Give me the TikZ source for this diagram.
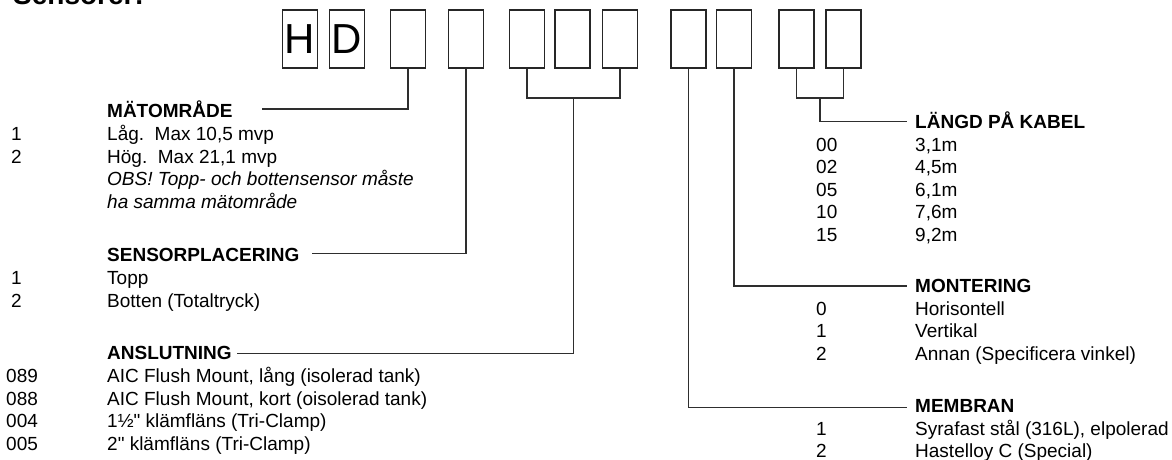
\documentclass[tikz,border=0pt]{standalone}
\usepackage{fontspec}
\setmainfont{Liberation Sans}[Ligatures=TeXOff]
\newcommand{\codefont}{\fontsize{19}{22.5}\selectfont}
\begin{document}
\begin{tikzpicture}[x=1pt,y=-1pt,
    box/.style={draw=black!85,line width=1.5pt,minimum width=35pt,minimum height=58pt,inner sep=0pt,font=\fontsize{42}{42}\selectfont},
    head/.style={anchor=base west,inner sep=0pt,font=\codefont\bfseries},
    item/.style={anchor=base west,inner sep=0pt,font=\codefont},
    conn/.style={draw=black!82,line width=1.5pt}]
    % Fix the page size
    \useasboundingbox (0,0) rectangle (1172,459);

    % Title (cut off at the top)
    \node[anchor=base west,inner sep=0pt,font=\fontsize{28}{28}\selectfont\bfseries] (title) at (13,4) {Sensorer:};

    % Code boxes
    \node[box] (b1) at (300,39) {H};
    \node[box] (b2) at (347,39) {D};
    \node[box] (b3) at (408,39) {};
    \node[box] (b4) at (466,39) {};
    \node[box] (b5) at (527,39) {};
    \node[box] (b6) at (572.5,39) {};
    \node[box] (b7) at (620,39) {};
    \node[box] (b8) at (688.5,39) {};
    \node[box] (b9) at (734,39) {};
    \node[box] (b10) at (796.5,39) {};
    \node[box] (b11) at (843.5,39) {};

    % Free ends of the connectors
    \coordinate (matend) at (262,109);
    \coordinate (sensend) at (311.5,253.5);
    \coordinate (anend) at (237,353.5);
    \coordinate (anbr) at (573.5,97);
    \coordinate (lkend) at (907,121.5);
    \coordinate (lkbr) at (820,97);
    \coordinate (montend) at (907,286);
    \coordinate (membend) at (907,407.5);

    % Connectors
    \draw[conn] (b3.south) |- (matend);
    \draw[conn] (b4.south) |- (sensend);
    \draw[conn] (b5.south) -- ++(0,29) -| (b7.south);
    \draw[conn] (anbr) |- (anend);
    \draw[conn] (b8.south) |- (membend);
    \draw[conn] (b9.south) |- (montend);
    \draw[conn] (b10.south) -- ++(0,29) -| (b11.south);
    \draw[conn] (lkbr) |- (lkend);

    % MÄTOMRÅDE
    \node[head] (mat) at (107,117.5) {MÄTOMRÅDE};
    \node[item] (mat1n) at (11,140.5) {1};
    \node[item] (mat1t) at (107,140.5) {Låg.\ \ Max 10,5 mvp};
    \node[item] (mat2n) at (11,163) {2};
    \node[item] (mat2t) at (107,163) {Hög.\ \ Max 21,1 mvp};
    \node[item,font=\codefont\itshape] (obs1) at (107,185.5) {OBS! Topp- och bottensensor måste};
    \node[item,font=\codefont\itshape] (obs2) at (107,208) {ha samma mätområde};

    % SENSORPLACERING
    \node[head] (sens) at (107,261.5) {SENSORPLACERING};
    \node[item] (sens1n) at (11,284.5) {1};
    \node[item] (sens1t) at (107,284.5) {Topp};
    \node[item] (sens2n) at (11,307) {2};
    \node[item] (sens2t) at (107,307) {Botten (Totaltryck)};

    % ANSLUTNING
    \node[head] (an) at (107,359.5) {ANSLUTNING};
    \node[item] (an1n) at (6,382.5) {089};
    \node[item] (an1t) at (107,382.5) {AIC Flush Mount, lång (isolerad tank)};
    \node[item] (an2n) at (6,405) {088};
    \node[item] (an2t) at (107,405) {AIC Flush Mount, kort (oisolerad tank)};
    \node[item] (an3n) at (6,427.5) {004};
    \node[item] (an3t) at (107,427.5) {1½" klämfläns (Tri-Clamp)};
    \node[item] (an4n) at (6,450) {005};
    \node[item] (an4t) at (107,450) {2" klämfläns (Tri-Clamp)};

    % LÄNGD PÅ KABEL
    \node[head] (lk) at (915,128.5) {LÄNGD PÅ KABEL};
    \node[item] (lk1n) at (816,151) {00};
    \node[item] (lk1t) at (915,151) {3,1m};
    \node[item] (lk2n) at (816,173.5) {02};
    \node[item] (lk2t) at (915,173.5) {4,5m};
    \node[item] (lk3n) at (816,196) {05};
    \node[item] (lk3t) at (915,196) {6,1m};
    \node[item] (lk4n) at (816,218.5) {10};
    \node[item] (lk4t) at (915,218.5) {7,6m};
    \node[item] (lk5n) at (816,241) {15};
    \node[item] (lk5t) at (915,241) {9,2m};

    % MONTERING
    \node[head] (mont) at (915,292.5) {MONTERING};
    \node[item] (mont1n) at (816,315) {0};
    \node[item] (mont1t) at (915,315) {Horisontell};
    \node[item] (mont2n) at (816,337.5) {1};
    \node[item] (mont2t) at (915,337.5) {Vertikal};
    \node[item] (mont3n) at (816,360) {2};
    \node[item] (mont3t) at (915,360) {Annan (Specificera vinkel)};

    % MEMBRAN
    \node[head] (memb) at (915,412.5) {MEMBRAN};
    \node[item] (memb1n) at (816,435) {1};
    \node[item] (memb1t) at (915,435) {Syrafast stål (316L), elpolerad};
    \node[item] (memb2n) at (816,457.5) {2};
    \node[item] (memb2t) at (915,457.5) {Hastelloy C (Special)};
\end{tikzpicture}
\end{document}
